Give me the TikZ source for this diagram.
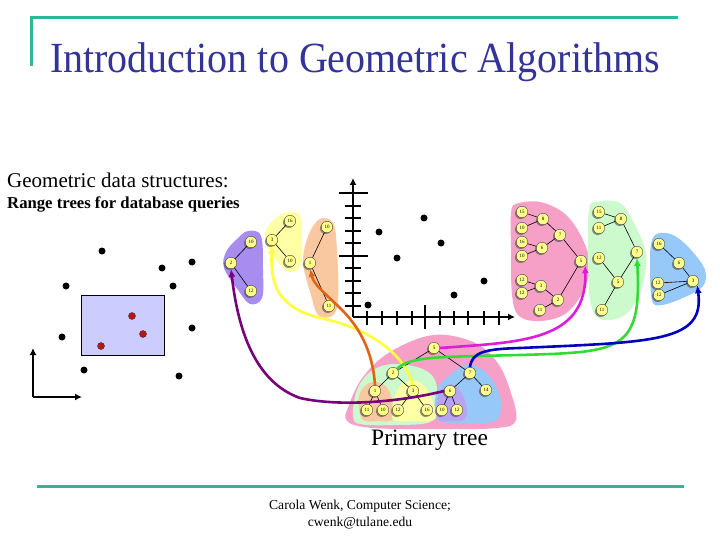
\documentclass[tikz,border=0pt]{standalone}
\usepackage{fontspec}
\setmainfont{Liberation Serif}
\usetikzlibrary{shadows,arrows.meta}
\definecolor{tealline}{RGB}{48,184,150}
\definecolor{titleblue}{RGB}{51,51,153}
\definecolor{nodeyellow}{RGB}{255,255,140}
\definecolor{blobpink}{RGB}{246,160,200}
\definecolor{blobgreen}{RGB}{204,250,204}
\definecolor{blobblue}{RGB}{150,200,250}
\definecolor{blobpurple}{RGB}{168,140,240}
\definecolor{blobyellow}{RGB}{255,255,165}
\definecolor{bloborange}{RGB}{250,200,160}
\definecolor{rectfill}{RGB}{204,204,255}
\definecolor{dotred}{RGB}{190,20,20}
\definecolor{cpurple}{RGB}{120,0,120}
\definecolor{cyellow}{RGB}{255,255,60}
\definecolor{corange}{RGB}{225,100,20}
\definecolor{cmagenta}{RGB}{220,30,220}
\definecolor{cgreen}{RGB}{50,220,50}
\definecolor{cblue}{RGB}{0,0,190}
\begin{document}
\begin{tikzpicture}[x=1pt,y=-1pt,
  tn/.style={circle, draw=black!70, fill=nodeyellow, minimum size=11.5pt, inner sep=0pt,
    font=\fontsize{5}{5}\selectfont,
    drop shadow={shadow xshift=-1.3pt, shadow yshift=-1.3pt, fill=black!70, opacity=0.6}},
  tedge/.style={draw=black, line width=0.6pt},
  blob/.style={smooth cycle, tension=0.6},
  cv/.style={line width=2.6pt, -{Latex[length=8pt,width=7pt]}},
  bdot/.style={circle, fill=black, minimum size=7pt, inner sep=0pt},
  rdot/.style={circle, fill=dotred, draw=black!80, line width=0.4pt, minimum size=7pt, inner sep=0pt},
  axis/.style={line width=2.6pt},
  tick/.style={line width=2.6pt}]
\useasboundingbox (0,0) rectangle (720,540);

% frame lines
\coordinate (tl) at (31,18);
\coordinate (tr) at (678,18);
\coordinate (tb) at (31,66);
\draw[tealline, line width=3pt] (tb) -- (tl) -- (tr);
\coordinate (bl) at (37,486);
\coordinate (br) at (684,486);
\draw[tealline, line width=3pt] (bl) -- (br);

% texts
\node[anchor=base west, inner sep=0, text=titleblue, font=\fontsize{43}{48}\selectfont] (title) at (50,73) {\scalebox{0.93}[1]{Introduction to Geometric Algorithms}};
\node[anchor=base west, inner sep=0, font=\fontsize{21}{24}\selectfont] (sub1) at (7,188) {Geometric data structures:};
\node[anchor=base west, inner sep=0, font=\bfseries\fontsize{16.7}{18}\selectfont] (sub2) at (7,209) {Range trees for database queries};
\node[anchor=base west, inner sep=0, font=\fontsize{23.5}{26}\selectfont] (prim) at (371,445) {Primary tree};
\node[anchor=base, inner sep=0, font=\fontsize{13.6}{16}\selectfont, align=center] (foot1) at (360,509) {Carola Wenk, Computer Science;};
\node[anchor=base, inner sep=0, font=\fontsize{13.6}{16}\selectfont] (foot2) at (360,526) {cwenk@tulane.edu};

% left point set
\node[draw=black, fill=rectfill, line width=0.8pt, minimum width=83pt, minimum height=60pt, inner sep=0] (qrect) at (122.5,325) {};
\foreach \p [count=\i] in {(102,251),(192,262),(162,268),(66,286),(173,286),(192,328),(62,337),(84,370),(179,376)}
  \node[bdot] (ld\i) at \p {};
\node[rdot] (rd1) at (132,316) {};
\node[rdot] (rd2) at (143,334) {};
\node[rdot] (rd3) at (101,346) {};
\coordinate (lo) at (33,397);
\coordinate (ly) at (33,348);
\coordinate (lx) at (82,397);
\draw[line width=2.4pt, -{Latex[length=7pt,width=7pt]}] (lo) -- (ly);
\draw[line width=2.4pt, -{Latex[length=7pt,width=7pt]}] (lo) -- (lx);

% right point set with axes
\coordinate (ro) at (353,317);
\coordinate (ry) at (353,178);
\coordinate (rx) at (515,317);
\draw[axis, -{Latex[length=7pt,width=7pt]}] (ro) -- (ry);
\draw[axis, -{Latex[length=7pt,width=7pt]}] (ro) -- (rx);
\foreach \y in {206,218,231,243,268,281,293,306} \draw[tick] (345,\y) -- (361,\y);
\foreach \y in {193,256} \draw[tick] (339,\y) -- (368,\y);
\foreach \x in {367,382,397,412,440,454,468,484,499} \draw[tick] (\x,311) -- (\x,325);
\draw[tick] (425,305) -- (425,329);
\foreach \p [count=\i] in {(368,305),(379,232),(397,258),(424,218),(441,243),(454,295),(484,281)}
  \node[bdot] (pd\i) at \p {};

% blobs of secondary trees
\fill[blobpurple] plot[blob] coordinates {(248,231) (261,236) (263,270) (262,298) (250,304) (238,290) (224,268) (226,252) (237,239)};
\fill[blobyellow] plot[blob] coordinates {(285,213) (300,215) (302,240) (301,265) (290,272) (278,262) (266,245) (266,230) (275,219)};
\fill[bloborange] plot[blob] coordinates {(320,219) (333,223) (337,250) (338,300) (332,316) (318,315) (311,295) (303,262) (309,234)};
\fill[blobpink] plot[blob] coordinates {(516,204) (540,202) (565,214) (582,238) (590,265) (583,292) (565,314) (540,321) (519,316) (512,295) (511,250) (511,214)};
\fill[blobgreen] plot[blob] coordinates {(596,202) (620,203) (635,225) (646,255) (641,290) (625,315) (600,319) (590,300) (588,250) (589,210)};
\fill[blobblue] plot[blob] coordinates {(660,233) (675,236) (692,251) (705,270) (703,286) (685,297) (662,305) (652,300) (650,262) (652,240)};

% blobs of primary tree
\fill[blobpink] plot[blob] coordinates {(347,421) (349,405) (363,377) (390,352) (433,335) (473,342) (497,362) (510,390) (516,420) (497,428) (440,429) (373,428)};
\fill[blobgreen] plot[blob] coordinates {(353,415) (357,390) (370,372) (392,364) (420,368) (435,380) (437,405) (430,422) (395,425) (360,424)};
\fill[blobblue] plot[blob] coordinates {(437,419) (437,390) (450,375) (465,365) (480,368) (495,384) (501,405) (495,421) (465,423)};
\fill[bloborange] plot[blob] coordinates {(362,419) (359,396) (369,383) (383,384) (391,396) (393,419) (377,421)};
\fill[blobyellow] plot[blob] coordinates {(393,419) (395,396) (405,382) (421,383) (432,399) (435,419) (414,421)};
\fill[blobpurple!80] plot[blob] coordinates {(438,419) (438,396) (448,385) (458,388) (466,404) (465,419) (451,421)};

% secondary trees: purple
\node[tn] (u1) at (251,242) {10};
\node[tn] (u2) at (231,263) {2};
\node[tn] (u3) at (251,291) {12};
\draw[tedge] (u2) -- (u1); \draw[tedge] (u2) -- (u3);
% yellow
\node[tn] (y1) at (290,221) {16};
\node[tn] (y2) at (272,240) {3};
\node[tn] (y3) at (290,261) {10};
\draw[tedge] (y2) -- (y1); \draw[tedge] (y2) -- (y3);
% orange
\node[tn] (o1) at (327,227) {10};
\node[tn] (o2) at (310,263) {1};
\node[tn] (o3) at (329,306) {11};
\draw[tedge] (o2) -- (o1); \draw[tedge] (o2) -- (o3);
% pink
\node[tn] (ka) at (522,212) {15};
\node[tn] (kb) at (522,228) {10};
\node[tn] (kc) at (543,219) {8};
\node[tn] (kd) at (522,242) {16};
\node[tn] (ke) at (522,256) {10};
\node[tn] (kf) at (542,248) {6};
\node[tn] (kg) at (560,235) {7};
\node[tn] (kh) at (581,261) {5};
\node[tn] (ki) at (522,280) {12};
\node[tn] (kj) at (522,293) {12};
\node[tn] (kk) at (541,286) {3};
\node[tn] (kl) at (558,300) {2};
\node[tn] (km) at (540,310) {11};
\foreach \a/\b in {ka/kc,kb/kc,kc/kg,kd/kf,ke/kf,kf/kg,kg/kh,ki/kk,kj/kk,kk/kl,km/kl,kl/kh}
  \draw[tedge] (\a) -- (\b);
% green
\node[tn] (gn) at (599,212) {15};
\node[tn] (go) at (599,228) {11};
\node[tn] (gp) at (621,219) {8};
\node[tn] (gq) at (637,252) {7};
\node[tn] (gr) at (599,258) {12};
\node[tn] (gs) at (618,282) {5};
\node[tn] (gt) at (602,310) {11};
\foreach \a/\b in {gn/gp,go/gp,gp/gq,gr/gs,gt/gs,gs/gq}
  \draw[tedge] (\a) -- (\b);
% blue
\node[tn] (bu) at (659,244) {16};
\node[tn] (bv) at (679,263) {6};
\node[tn] (bw) at (693,281) {3};
\node[tn] (bx) at (658,283) {12};
\node[tn] (by) at (659,295) {12};
\foreach \a/\b in {bu/bv,bv/bw,bx/bw,by/bw}
  \draw[tedge] (\a) -- (\b);

% primary tree
\node[tn] (pR) at (434,348) {5};
\node[tn] (pA) at (393,373) {2};
\node[tn] (pB) at (470,373) {7};
\node[tn] (pC) at (375,391) {1};
\node[tn] (pD) at (413,391) {3};
\node[tn] (pE) at (450,391) {6};
\node[tn] (pF) at (486,390) {14};
\node[tn] (pl1) at (367,410) {11};
\node[tn] (pl2) at (383,410) {10};
\node[tn] (pl3) at (398,410) {12};
\node[tn] (pl4) at (427,410) {16};
\node[tn] (pl5) at (442,410) {10};
\node[tn] (pl6) at (457,410) {12};
\foreach \a/\b in {pR/pA,pR/pB,pA/pC,pA/pD,pB/pE,pB/pF,pC/pl1,pC/pl2,pD/pl3,pD/pl4,pE/pl5,pE/pl6}
  \draw[tedge] (\a) -- (\b);

% connectors to secondary trees
\draw[cv, cpurple] (pE.west) .. controls (400,402) and (340,407) .. (300,398) .. controls (255,382) and (238,330) .. (u2.south);
\draw[cv, cyellow] (pD.north) .. controls (405,355) and (370,328) .. (320,318) .. controls (282,308) and (270,290) .. (y2.south);
\draw[cv, corange] (pC.north) .. controls (373,355) and (362,330) .. (342,310) .. controls (325,293) and (314,285) .. (o2.south);
\draw[cv, cmagenta] (pR.east) .. controls (520,342) and (587,342) .. (kh.south east);
\draw[cv, cgreen] (pA.north east) .. controls (410,356) and (440,357) .. (520,355) .. controls (620,352) and (642,352) .. (gq.south);
\draw[cv, cblue] (pB.north) .. controls (472,352) and (485,349) .. (520,348) .. controls (655,342) and (705,342) .. (bw.south east);
\end{tikzpicture}
\end{document}
